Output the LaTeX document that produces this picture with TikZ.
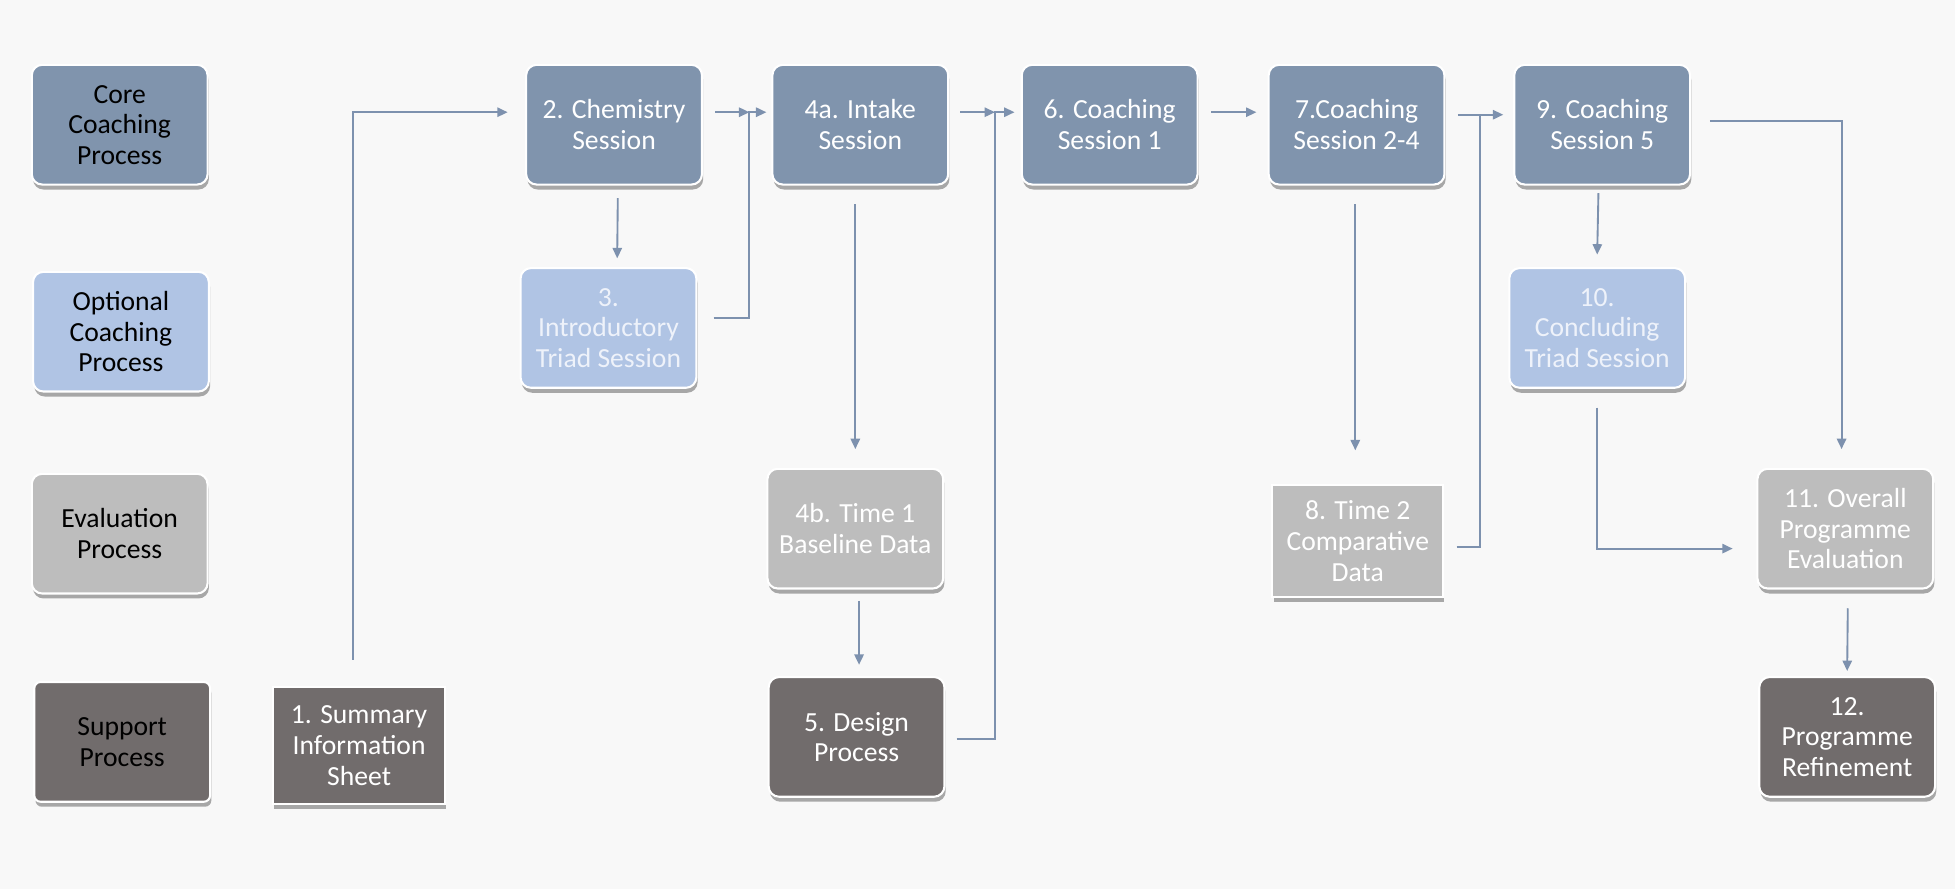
\documentclass[tikz,border=0pt]{standalone}
\usepackage{fontspec}
\setmainfont{Carlito}
\usetikzlibrary{shadows,arrows.meta,calc}
\definecolor{bgc}{HTML}{F8F8F8}
\definecolor{corec}{HTML}{8094AD}
\definecolor{optc}{HTML}{B0C4E4}
\definecolor{evalc}{HTML}{BDBDBD}
\definecolor{suppc}{HTML}{716C6C}
\definecolor{arrc}{HTML}{7D91AE}
\definecolor{opttext}{HTML}{EEF2FA}
\begin{document}
\begin{tikzpicture}[x=0.6pt,y=-0.6pt,
  box/.style={rectangle, rounded corners=5pt, draw=white, line width=1pt,
    minimum width=84.6pt, minimum height=57.6pt, inner sep=2pt, align=center,
    font=\fontsize{13.3}{14.7}\selectfont,
    drop shadow={shadow xshift=0.6pt, shadow yshift=-2.4pt, opacity=0.55, fill=black!60}},
  sharp/.style={rounded corners=0pt},
  corebox/.style={box, fill=corec, text=white},
  optbox/.style={box, fill=optc, text=opttext},
  evalbox/.style={box, fill=evalc, text=white},
  suppbox/.style={box, fill=suppc, text=white},
  legend/.style={text=black},
  arr/.style={draw=arrc, line width=0.9pt, -{Triangle[length=5pt,width=4.5pt]}},
  conn/.style={draw=arrc, line width=0.9pt}]
\useasboundingbox[fill=bgc] (0,0) rectangle (1568,713);

% legend
\node[corebox, legend] (lcore) at (96,100) {Core\\Coaching\\Process};
\node[optbox, legend] (lopt) at (97,266) {Optional\\Coaching\\Process};
\node[evalbox, legend] (leval) at (96,428) {Evaluation\\Process};
\node[suppbox, legend, rounded corners=3pt] (lsupp) at (98,595) {Support\\Process};

% core row
\node[corebox] (chem) at (492.5,100) {2. Chemistry\\Session};
\node[corebox] (intake) at (690,100) {4a. Intake\\Session};
\node[corebox] (coach1) at (890,100) {6. Coaching\\Session 1};
\node[corebox] (coach24) at (1088,100) {7.Coaching\\Session 2-4};
\node[corebox] (coach5) at (1285,100) {9. Coaching\\Session 5};

% optional row
\node[optbox] (intro) at (488,263) {3.\\Introductory\\Triad Session};
\node[optbox] (concl) at (1281,263) {10.\\Concluding\\Triad Session};

% evaluation row
\node[evalbox] (base) at (686,424) {4b. Time 1\\Baseline Data};
\node[evalbox, sharp, minimum width=82.2pt, minimum height=54pt] (time2) at (1089,434) {8. Time 2\\Comparative\\Data};
\node[evalbox] (overall) at (1480,424) {11. Overall\\Programme\\Evaluation};

% support row
\node[suppbox, sharp, minimum width=82.8pt, minimum height=56.4pt] (summary) at (288,598) {1. Summary\\Information\\Sheet};
\node[suppbox] (design) at (687,591) {5. Design\\Process};
\node[suppbox] (refine) at (1481.5,591) {12.\\Programme\\Refinement};

% junctions
\coordinate (j1) at (601,90);
\coordinate (j2) at (798,90);
\coordinate (j3) at (1187,92);

% connectors
\draw[arr] ($(summary.north)+(-5,-21)$) |- ($(chem.west)+(-14,-10)$);
\draw[arr] ($(chem.east)+(10,-10)$) -- (j1);
\draw[arr] ($(intro.east)+(13,-8)$) -| (j1) -- ($(intake.west)+(-4,-10)$);
\draw[arr] ($(chem.south)+(3,10)$) -- ($(intro.north)+(7,-7)$);
\draw[arr] ($(intake.east)+(9,-10)$) -- (j2);
\draw[arr] ($(design.east)+(9,2)$) -| (j2) -- ($(coach1.west)+(-5,-10)$);
\draw[arr] ($(intake.south)+(-4,15)$) -- ($(base.north)+(0,-15)$);
\draw[arr] ($(base.south)+(3,9)$) -- ($(design.north)+(2,-9)$);
\draw[arr] ($(coach1.east)+(10,-10)$) -- ($(coach24.west)+(-9,-10)$);
\draw[arr] ($(coach24.south)+(-1,15)$) -- ($(time2.north)+(-2,-27)$);
\draw[arr] ($(coach24.east)+(10,-8)$) -- ($(coach5.west)+(-8,-8)$);
\draw[conn] ($(time2.east)+(10,5)$) -| (j3);
\draw[arr] ($(coach5.south)+(-3,6)$) -- ($(concl.north)+(0,-10)$);
\draw[arr] ($(coach5.east)+(15,-3)$) -| ($(overall.north)+(-3,-15)$);
\draw[arr] ($(concl.south)+(0,15)$) |- ($(overall.west)+(-19,16)$);
\draw[arr] ($(overall.south)+(2,15)$) -- ($(refine.north)+(0,-4)$);
\end{tikzpicture}
\end{document}
